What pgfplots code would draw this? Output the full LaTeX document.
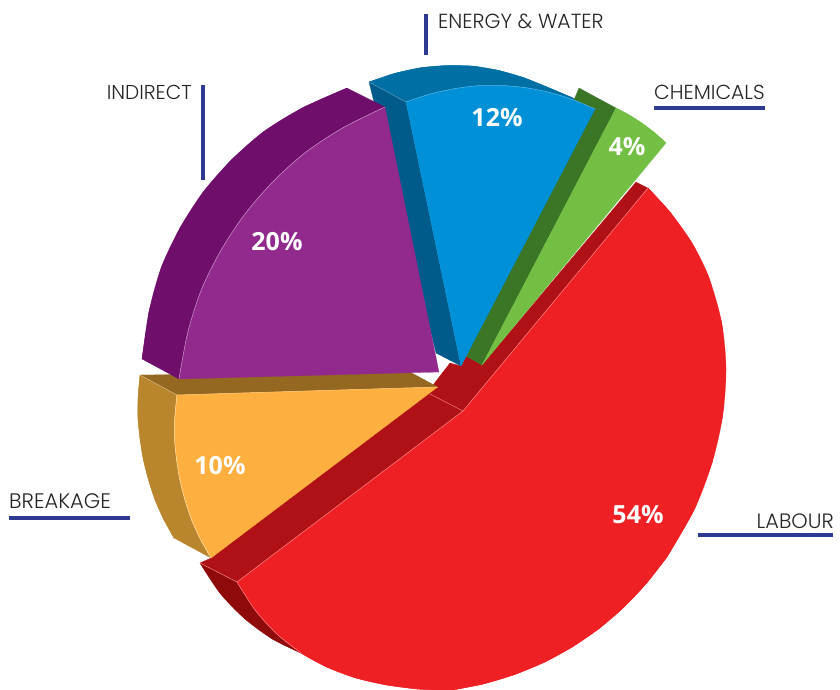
\documentclass[border=0pt]{standalone}
\usepackage{pgfplots}
\pgfplotsset{compat=1.18}
\usepackage{fontspec}
\setmainfont{Poppins}[UprightFont=* Light]
\newfontfamily\pct{Open Sans}[UprightFont=* Bold]
\definecolor{lineblue}{HTML}{2E3A92}
\definecolor{teal}{HTML}{006FA3}
\definecolor{bluedark}{HTML}{005B8A}
\definecolor{bluef}{HTML}{0090D7}
\definecolor{greend}{HTML}{3B7526}
\definecolor{greenf}{HTML}{72BF44}
\definecolor{redd}{HTML}{B01116}
\definecolor{maroon}{HTML}{8F0A0B}
\definecolor{redf}{HTML}{EE2024}
\definecolor{brown}{HTML}{946821}
\definecolor{oranged}{HTML}{B9862D}
\definecolor{orangef}{HTML}{FDB040}
\definecolor{purpled}{HTML}{6F0F6B}
\definecolor{purplef}{HTML}{922A8E}
\newcommand\poly[2]{\addplot[fill=#1,draw=#1,line width=.2pt] coordinates {#2} -- cycle;}
\newcommand\arcfill[2]{\addplot[smooth,fill=#1,draw=#1,line width=.2pt] coordinates {#2};}
\newcommand\seam[2]{\addplot[draw=#1,line width=.5pt] coordinates {#2};}
\newcommand\arcseam[2]{\addplot[smooth,draw=#1,line width=.5pt] coordinates {#2};}
\newcommand\lead[1]{\addplot[draw=lineblue,line width=3.4pt] coordinates {#1};}
% arcs
\newcommand\arcPi{(385,107)(342.4,128.1)(304.6,153.1)(272.4,182.3)(244.5,214.6)(221,250.3)(201.6,289.1)(187.8,332.3)(179,379)}
\newcommand\arcPo{(142,359)(149.1,311.1)(161.4,267.1)(180,227.9)(203.1,192.1)(231.2,160.1)(263.8,131.5)(302.7,107.7)(347,88)}
\newcommand\arcRa{(648,188)(670,212)(692,243)(708.8,277.2)(721.7,322.9)(726,369)(722.7,415.5)(712.2,462.3)(694.3,509.6)(667,557)}
\newcommand\arcRb{(667,557)(646.1,583.8)(623.4,607.7)(598.9,628.7)(572.6,646.8)(544.7,662.1)(514.8,674.5)(483.3,684)(450,690.5)}
\newcommand\arcRc{(450,690.5)(417.2,689)(385.8,684.9)(355.8,678)(327.6,667.5)(301.3,653.2)(277.4,634.5)(255.8,611)(237,582)}
\newcommand\arcRlow{(301.3,653.2)(277.4,634.5)(255.8,611)(237,582)}
\newcommand\arcTe{(369,82)(395.3,73.2)(421.4,67.6)(447.3,65.5)(472.9,66.1)(498.2,70.3)(523.3,77.5)(548.2,87.5)(573,98)}
\newcommand\arcBl{(406,102)(429.8,94.1)(453.8,88.8)(477.6,85.8)(501.2,85.5)(524.8,87.6)(548.4,92.2)(571.8,99.3)(595,109)}
\newcommand\arcGr{(616,108)(629.6,115.2)(642.4,123.5)(654.6,132.7)(666,143)}
\newcommand\arcOi{(177,395)(174.9,416.6)(174.5,438)(176.5,458.9)(179.8,479.5)(184.9,499.7)(191.5,519.6)(200.3,539)(211,558)}
\newcommand\arcOo{(140,375)(138.1,396.6)(137.9,417.9)(140,438.8)(143.3,459.4)(148.4,479.6)(154.9,499.5)(163.5,519)(174,538)}
\newcommand\arcMa{(200,563)(219.9,593.1)(244.3,618.4)(272.5,639.1)(305,655)}
\begin{document}
\begin{tikzpicture}[x=1pt,y=1pt]
\begin{axis}[
  anchor=south west, at={(0,0)},
  width=840pt, height=689pt, scale only axis,
  xmin=0, xmax=840, ymin=0, ymax=689, y dir=reverse,
  hide axis, clip=true]
% red side
\poly{redd}{(200,563)(237,582)(463,411)(648,188)(636,182)(482,365)(466,356)(461,366)(450,363)(433,385)(211,558)}
\seam{redf!60!white}{(430,394)(463,411)}
% maroon side
\poly{maroon}{\arcMa(237,582)}
\arcfill{maroon}{\arcMa}
% red face
\poly{redf}{(463,411)\arcRa\arcRb\arcRc}
\arcfill{redf}{\arcRa}
\arcfill{redf}{\arcRb}
\arcfill{redf}{\arcRc}
\seam{redf!55!white}{(200,563)(237,582)(463,411)(648,188)}
\arcseam{redf!55!white}{\arcRlow}
% blue back
\poly{teal}{\arcTe(595,109)(406,102)}
\arcfill{teal}{\arcTe}
\poly{bluedark}{(369,82)(406,102)(461,366)(436,353)}
\seam{teal!65!white}{(369,82)(406,102)}
% green side
\poly{greend}{(579,88)(616,108)(482,365)(466,356)}
% blue face
\poly{bluef}{\arcBl(461,366)}
\arcfill{bluef}{\arcBl}
\arcseam{bluef!65!white}{\arcBl}
% green face
\poly{greenf}{\arcGr(482,365)}
\arcfill{greenf}{\arcGr}
% brown + orange
\poly{brown}{(140,375)(177,395)(437.7,387)(410,372)}
\poly{oranged}{\arcOo(211,558)(177,395)}
\arcfill{oranged}{\arcOo}
\seam{oranged!60!white}{(140,375)(177,395)}
\poly{orangef}{\arcOi(437.7,387)}
\arcfill{orangef}{\arcOi}
\arcseam{orangef!40!white}{\arcOi}
\seam{orangef!70!white}{(177,395)(437.7,387)}
% purple
\poly{purpled}{\arcPo(385,107)(179,379)}
\arcfill{purpled}{\arcPo}
\poly{purplef}{\arcPi(439,372)}
\arcfill{purplef}{\arcPi}
\arcseam{purplef!50!white}{\arcPi}
% leader lines
\lead{(426,14)(426,55)}
\lead{(654,108)(765,108)}
\lead{(203,85)(203,180)}
\lead{(9,518)(130,518)}
\lead{(698,535)(833,535)}
% labels
\node[inner sep=0pt,anchor=base west,font=\fontsize{20.4}{20}\selectfont,text=black!85] at (axis cs:438,28) {ENERGY \& WATER};
\node[inner sep=0pt,anchor=base west,font=\fontsize{20.3}{20}\selectfont,text=black!85] at (axis cs:654,99) {CHEMICALS};
\node[inner sep=0pt,anchor=base east,font=\fontsize{20.1}{20}\selectfont,text=black!85] at (axis cs:192,99) {INDIRECT};
\node[inner sep=0pt,anchor=base west,font=\fontsize{21}{20}\selectfont,text=black!85] at (axis cs:9,508) {BREAKAGE};
\node[inner sep=0pt,anchor=base east,font=\fontsize{20.8}{20}\selectfont,text=black!85] at (axis cs:834,528) {LABOUR};
\node[font=\pct\fontsize{25}{25}\selectfont,text=white] at (axis cs:497,118) {12\%};
\node[font=\pct\fontsize{25}{25}\selectfont,text=white] at (axis cs:627,147) {4\%};
\node[font=\pct\fontsize{25}{25}\selectfont,text=white] at (axis cs:277,242) {20\%};
\node[font=\pct\fontsize{25}{25}\selectfont,text=white] at (axis cs:220,466) {10\%};
\node[font=\pct\fontsize{25}{25}\selectfont,text=white] at (axis cs:638,515) {54\%};
\end{axis}
\path[use as bounding box] (0,0) rectangle (840,689);
\end{tikzpicture}
\end{document}
